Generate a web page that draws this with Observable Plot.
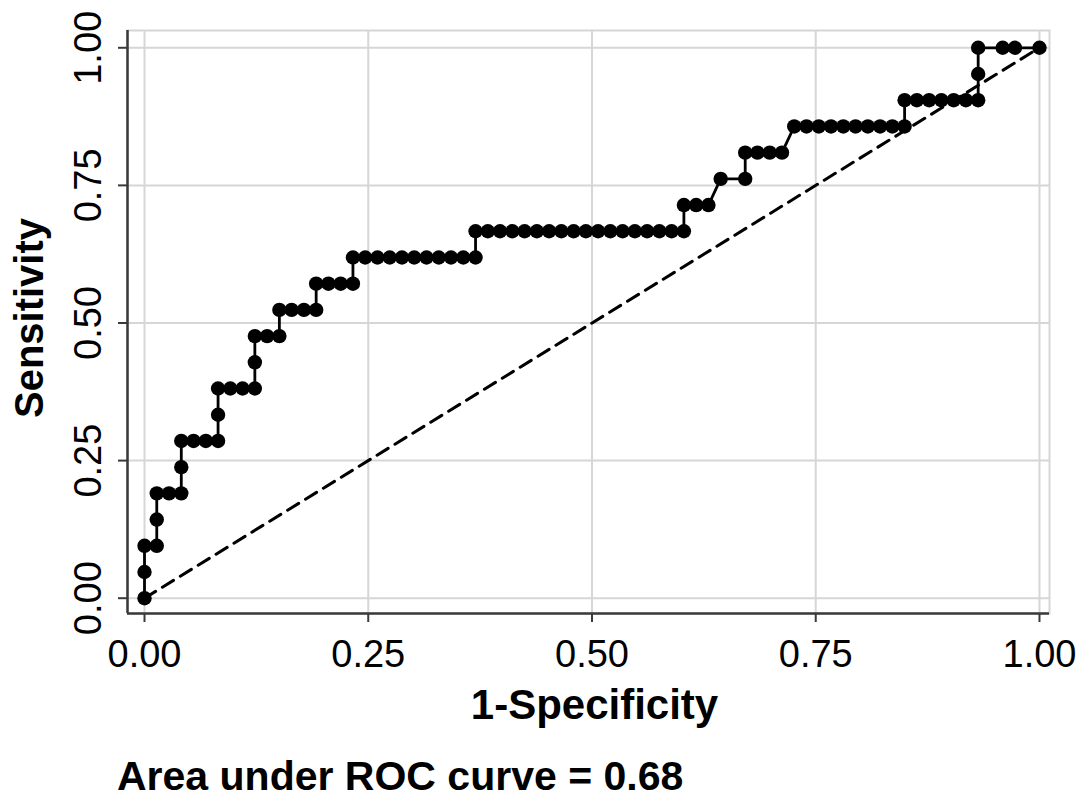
<!DOCTYPE html>
<html>
<head>
<meta charset="utf-8">
<script src="https://cdn.jsdelivr.net/npm/d3@7"></script>
<script src="https://cdn.jsdelivr.net/npm/@observablehq/plot@0.6"></script>
<style>
  html, body { margin: 0; padding: 0; background: #fff; }
  body { width: 1087px; height: 803px; position: relative; overflow: hidden;
         font-family: "Liberation Sans", Arial, Helvetica, sans-serif; }
  #chart { position: absolute; left: 0; top: 0; }
  #caption { position: absolute; left: 117px; top: 756px; font-size: 41px; line-height: 41px;
             font-weight: bold; color: #000; white-space: nowrap; }
</style>
</head>
<body>
<div id="chart"></div>
<div id="caption"></div>
<script>
// ---- Data ----
const oneMinusSpecificity = [
  0, 0, 0, .0137, .0137, .0137, .0274, .0411, .0411, .0411, .0548, .0685, .0822, .0822, .0822,
  .0959, .1096, .1233, .1233, .1233, .137, .1507, .1507, .1644, .1781, .1918, .1918, .2055, .2192, .2329, .2329,
  .2466, .2603, .274, .2877, .3014, .3151, .3288, .3425, .3562, .3699,
  .3699,
  .3836, .3973, .411, .4247, .4384, .4521, .4658, .4795, .4932, .5068, .5205, .5342, .5479, .5616, .5753, .589, .6027,
  .6027, .6164, .6301, .6438, .6712, .6712, .6849, .6986, .7123, .726,
  .7397, .7534, .7671, .7808, .7945, .8082, .8219, .8356, .8493,
  .8493,
  .863, .8767, .8904, .9041, .9178, .9315,
  .9315, .9315, .9589, .9726, 1
];
const sensitivity = [
  0, .0476, .0952, .0952, .1429, .1905, .1905, .1905, .2381, .2857, .2857, .2857, .2857, .3333, .381,
  .381, .381, .381, .4286, .4762, .4762, .4762, .5238, .5238, .5238, .5238, .5714, .5714, .5714, .5714, .619,
  .619, .619, .619, .619, .619, .619, .619, .619, .619, .619,
  .6667,
  .6667, .6667, .6667, .6667, .6667, .6667, .6667, .6667, .6667, .6667, .6667, .6667, .6667, .6667, .6667, .6667, .6667,
  .7143, .7143, .7143, .7619, .7619, .8095, .8095, .8095, .8095, .8571,
  .8571, .8571, .8571, .8571, .8571, .8571, .8571, .8571, .8571,
  .9048,
  .9048, .9048, .9048, .9048, .9048, .9048,
  .9524, 1, 1, 1, 1
];
const referenceX = [0, 1];
const referenceY = [0, 1];
const tickValues = [0, 0.25, 0.5, 0.75, 1];
const tickLabels = ["0.00", "0.25", "0.50", "0.75", "1.00"];
const xTitle = "1-Specificity";
const yTitle = "Sensitivity";
const captionText = "Area under ROC curve = 0.68";
const xDomain = [-0.019, 1.0112];
const yDomain = [-0.0278, 1.0314];

// ---- Build tables ----
const roc = oneMinusSpecificity.map((x, i) => ({x, y: sensitivity[i]}));
const diag = referenceX.map((x, i) => ({x, y: referenceY[i]}));
const fmt = d => tickLabels[tickValues.indexOf(d)];

const gridColor = "#d6d6d6";
const axisColor = "#3a3a3a";

const chart = Plot.plot({
  width: 1087,
  height: 745,
  marginLeft: 127,
  marginRight: 38,
  marginTop: 30,
  marginBottom: 132,
  x: {domain: xDomain},
  y: {domain: yDomain},
  style: {fontFamily: "'Liberation Sans', Arial, Helvetica, sans-serif", background: "#fff", color: "#000", overflow: "visible"},
  marks: [
    Plot.frame({stroke: gridColor, strokeWidth: 2}),
    Plot.ruleX(tickValues, {stroke: gridColor, strokeWidth: 2}),
    Plot.ruleY(tickValues, {stroke: gridColor, strokeWidth: 2}),
    Plot.ruleX([xDomain[0]], {stroke: axisColor, strokeWidth: 2.5}),
    Plot.ruleY([yDomain[0]], {stroke: axisColor, strokeWidth: 2.5}),
    Plot.axisX({ticks: tickValues, tickFormat: fmt, tickSize: 9, tickPadding: 18, fontSize: 38,
                stroke: axisColor, strokeWidth: 2, fill: "#000", label: null}),
    Plot.axisY({ticks: tickValues, tickFormat: fmt, tickRotate: -90, tickSize: 9, tickPadding: 18, fontSize: 38,
                stroke: axisColor, strokeWidth: 2, fill: "#000", label: null}),
    Plot.text([xTitle], {frameAnchor: "bottom", textAnchor: "middle", lineAnchor: "middle", dx: 6, dy: 92,
                         fontSize: 42, fontWeight: "bold", fill: "#000"}),
    Plot.text([yTitle], {frameAnchor: "left", textAnchor: "middle", lineAnchor: "middle", dx: -97, dy: -4, rotate: -90,
                         fontSize: 40, fontWeight: "bold", fill: "#000"}),
    Plot.line(diag, {x: "x", y: "y", stroke: "#000", strokeWidth: 3, strokeDasharray: "13,8"}),
    Plot.line(roc, {x: "x", y: "y", stroke: "#000", strokeWidth: 2.8}),
    Plot.dot(roc, {x: "x", y: "y", r: 7.2, fill: "#000", stroke: "none"})
  ]
});
document.getElementById("chart").appendChild(chart);
document.getElementById("caption").textContent = captionText;
</script>
</body>
</html>
